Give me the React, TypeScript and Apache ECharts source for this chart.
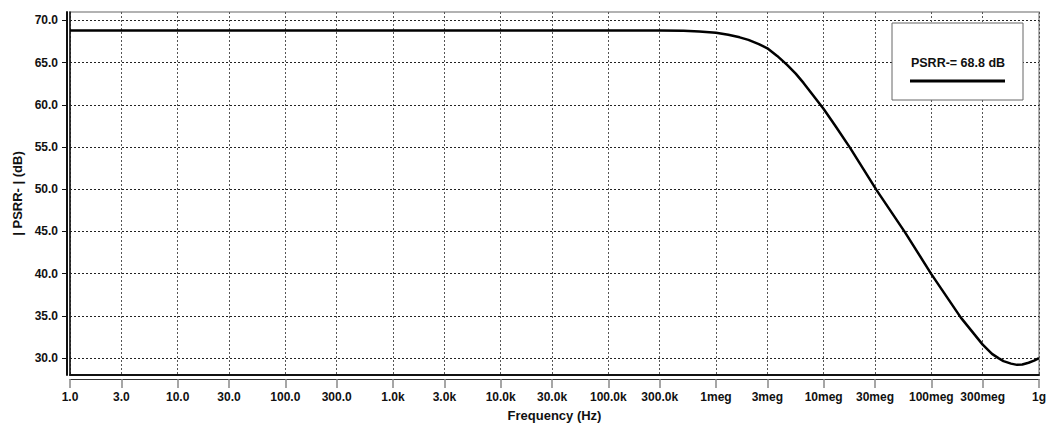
import React, { useEffect, useRef } from "react";
import * as echarts from "echarts";

const freqHz = [1, 1e5, 3e5, 5e5, 7e5, 1e6, 1.3e6, 1.66e6, 2e6, 2.5e6, 3e6, 3.7e6, 4.6e6, 5.5e6, 6.5e6, 8e6, 1e7, 1.3e7, 1.76e7, 3.1e7, 5.7e7, 1e8, 1.88e8, 3e8, 3.66e8, 4.2e8, 4.68e8, 5.5e8, 6.25e8, 7e8, 8e8, 9e8, 1e9];
const psrrDb = [68.8, 68.8, 68.8, 68.77, 68.7, 68.55, 68.3, 68.0, 67.7, 67.2, 66.7, 65.8, 64.7, 63.7, 62.6, 61.1, 59.5, 57.4, 54.9, 49.9, 44.9, 39.95, 34.8, 31.6, 30.5, 30.0, 29.65, 29.35, 29.2, 29.25, 29.45, 29.7, 30.0];

const xTickValues = [1, 3, 10, 30, 100, 300, 1e3, 3e3, 1e4, 3e4, 1e5, 3e5, 1e6, 3e6, 1e7, 3e7, 1e8, 3e8, 1e9];
const xTickLabels = ["1.0", "3.0", "10.0", "30.0", "100.0", "300.0", "1.0k", "3.0k", "10.0k", "30.0k", "100.0k", "300.0k", "1meg", "3meg", "10meg", "30meg", "100meg", "300meg", "1g"];
const yTickValues = [30, 35, 40, 45, 50, 55, 60, 65, 70];

const seriesName = "PSRR-= 68.8 dB";
const xTitle = "Frequency (Hz)";
const yTitle = "| PSRR- | (dB)";

const FONT = "'Liberation Sans', Arial, sans-serif";

export default function App() {
  const ref = useRef<HTMLDivElement>(null);
  useEffect(() => {
    if (!ref.current) return;
    const chart = echarts.init(ref.current, null, { renderer: "svg" });
    const xLabel = (v: number) => {
      const i = xTickValues.findIndex((t) => Math.abs(t - v) / t < 1e-6);
      return i >= 0 ? xTickLabels[i] : "";
    };
    const labelStyle = { fontFamily: FONT, fontWeight: "bold" as const, fontSize: 12, color: "#111" };
    chart.setOption({
      animation: false,
      backgroundColor: "#fff",
      grid: { left: 70, right: 12, top: 12, bottom: 51, show: true, borderColor: "#999", borderWidth: 1.5, backgroundColor: "transparent" },
      xAxis: [
        {
          type: "log",
          min: 1,
          max: 1e9,
          position: "bottom",
          offset: 4,
          axisLine: { show: true, lineStyle: { color: "#333", width: 1 } },
          axisTick: { show: true, length: 9, customValues: xTickValues, lineStyle: { color: "#888", width: 1.5 } },
          axisLabel: { customValues: xTickValues, formatter: xLabel, margin: 12, ...labelStyle },
          splitLine: { show: true, lineStyle: { color: "#555", type: [2, 2], width: 1 } },
          minorTick: { show: false },
          name: xTitle,
          nameLocation: "middle",
          nameGap: 30,
          nameTextStyle: { fontFamily: FONT, fontWeight: "bold", fontSize: 13, color: "#111" },
        },
        {
          type: "log",
          min: 1,
          max: 1e9,
          position: "bottom",
          offset: 0,
          axisLine: { show: true, lineStyle: { color: "#111", width: 2 } },
          axisTick: { show: false },
          axisLabel: { show: false },
          splitLine: { show: false },
        },
      ],
      yAxis: [
        {
          type: "value",
          min: 28,
          max: 71,
          position: "left",
          offset: 3,
          axisLine: { show: true, lineStyle: { color: "#111", width: 2 } },
          axisTick: { show: true, length: 5, customValues: yTickValues, lineStyle: { color: "#111", width: 1 } },
          axisLabel: { customValues: yTickValues, formatter: (v: number) => v.toFixed(1), margin: 9, ...labelStyle },
          splitLine: { show: true, lineStyle: { color: "#222", type: [2, 2], width: 1 } },
          name: yTitle,
          nameLocation: "middle",
          nameGap: 42,
          nameRotate: 90,
          nameTextStyle: { fontFamily: FONT, fontWeight: "bold", fontSize: 13, color: "#111" },
        },
        {
          type: "value",
          min: 28,
          max: 71,
          position: "left",
          offset: 0,
          axisLine: { show: true, lineStyle: { color: "#111", width: 1.5 } },
          axisTick: { show: false },
          axisLabel: { show: false },
          splitLine: { show: false },
        },
      ],
      series: [
        {
          name: seriesName,
          type: "line",
          xAxisIndex: 0,
          yAxisIndex: 0,
          data: freqHz.map((f, i) => [f, psrrDb[i]]),
          showSymbol: false,
          smooth: false,
          lineStyle: { color: "#000", width: 2.5, join: "round" },
        },
      ],
      graphic: [
        {
          type: "rect",
          shape: { x: 892, y: 23, width: 131, height: 77 },
          style: { fill: "#fff", stroke: "#666", lineWidth: 1 },
          z: 100,
        },
        {
          type: "text",
          x: 958,
          y: 63,
          style: { text: seriesName, fontFamily: FONT, fontWeight: "bold", fontSize: 12.5, fill: "#111", align: "center", verticalAlign: "middle" },
          z: 101,
        },
        {
          type: "line",
          shape: { x1: 910, y1: 81, x2: 1005, y2: 81 },
          style: { stroke: "#000", lineWidth: 3 },
          z: 101,
        },
      ],
    });
    return () => chart.dispose();
  }, []);
  return <div ref={ref} style={{ position: "fixed", left: 0, top: 0, width: 1051, height: 427 }} />;
}
